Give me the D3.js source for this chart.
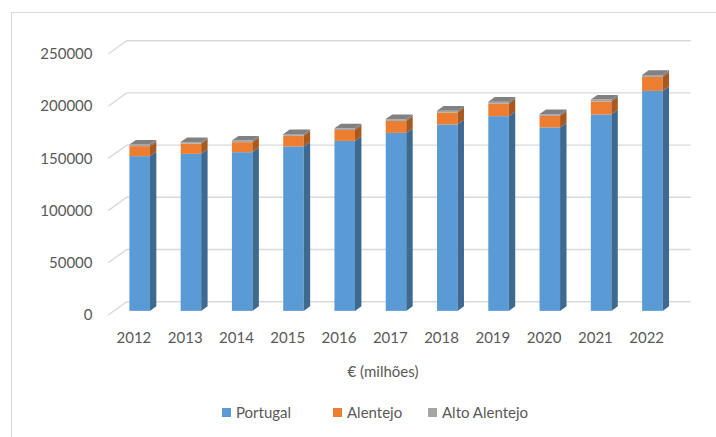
<!DOCTYPE html>
<html>
<head>
<meta charset="utf-8">
<script src="https://cdn.jsdelivr.net/npm/d3@7"></script>
<style>
  body { margin: 0; background: #fff; }
  svg text { font-family: Lato, "Open Sans", sans-serif; fill: #595959; }
</style>
</head>
<body>
<div id="chart-area"></div>
<script>
// Chart data (€ milhões)
const years = ["2012", "2013", "2014", "2015", "2016", "2017", "2018", "2019", "2020", "2021", "2022"];
const portugal = [148200, 150400, 152000, 157500, 162800, 170500, 178500, 186500, 175700, 188100, 210700];
const alentejo = [9600, 9800, 9600, 10200, 10500, 11500, 11500, 12100, 11100, 12500, 13400];
const altoAlentejo = [1500, 1500, 1500, 1600, 1600, 1700, 1700, 1800, 1700, 1800, 1900];
const seriesNames = ["Portugal", "Alentejo", "Alto Alentejo"];
const yTicks = [0, 50000, 100000, 150000, 200000, 250000];

const width = 716, height = 437;
const colors = {
    front: ["#5b9bd5", "#ed7d31", "#a5a5a5"],
    side: ["#3e6a92", "#a9581f", "#767676"],
    top: "#818181"
};

// 3D depth of the floor / wall and of the bars
const depth = { dx: 18.4, dy: -13.3 };
const barFront = 0.31, barBack = 0.66;

const svg = d3.select("#chart-area").append("svg")
    .attr("width", width)
    .attr("height", height);

// chart frame
svg.append("path")
    .attr("d", "M11.5," + height + "V12.5H" + width)
    .attr("fill", "none")
    .attr("stroke", "#d9d9d9");

// scales on the front plane
const x = d3.scaleBand().domain(years).range([108.3, 672.3])
    .paddingInner(0.6).paddingOuter(0.3);
const y = d3.scaleLinear().domain([0, 250000]).range([315, 54]);

// gridlines: slant on the side wall, then along the back wall
const grid = svg.append("g");
yTicks.forEach((v) => {
    const y0 = y(v);
    grid.append("path")
        .attr("d", "M108.3," + y0 + "L" + (108.3 + depth.dx) + "," + (y0 + depth.dy) +
            "H" + (672.3 + depth.dx))
        .attr("fill", "none")
        .attr("stroke", "#d9d9d9")
        .attr("stroke-width", 1.4);
    grid.append("text")
        .attr("x", 92.5)
        .attr("y", y0)
        .attr("dy", "0.35em")
        .attr("text-anchor", "end")
        .style("font-size", "15px")
        .text(v);
});

// stacked data
const stackData = years.map((yr, i) => ({ year: yr, values: [portugal[i], alentejo[i], altoAlentejo[i]] }));

const sx = (barBack - barFront) * depth.dx, sy = (barBack - barFront) * depth.dy;
const bars = svg.append("g");
stackData.forEach((d) => {
    const bw = x.bandwidth();
    const x0 = x(d.year) + barFront * depth.dx;
    const x1 = x0 + bw;
    const off = barFront * depth.dy;
    let base = 0;
    d.values.forEach((v, s) => {
        const yb = y(base) + off, yt = y(base + v) + off;
        bars.append("rect")
            .attr("x", x0).attr("y", yt)
            .attr("width", bw).attr("height", yb - yt)
            .attr("fill", colors.front[s]);
        bars.append("polygon")
            .attr("points", [[x1, yb], [x1 + sx, yb + sy], [x1 + sx, yt + sy], [x1, yt]].join(" "))
            .attr("fill", colors.side[s]);
        base += v;
        if (s === d.values.length - 1) {
            bars.append("polygon")
                .attr("points", [[x0, yt], [x0 + sx, yt + sy], [x1 + sx, yt + sy], [x1, yt]].join(" "))
                .attr("fill", colors.top);
        }
    });
});

// category labels
svg.append("g").selectAll("text")
    .data(years)
    .join("text")
    .attr("x", (d) => x(d) + x.bandwidth() / 2)
    .attr("y", 338)
    .attr("dy", "0.35em")
    .attr("text-anchor", "middle")
    .style("font-size", "15px")
    .text((d) => d);

// axis title
svg.append("text")
    .attr("x", 383)
    .attr("y", 372)
    .attr("dy", "0.35em")
    .attr("text-anchor", "middle")
    .style("font-size", "15px")
    .text("€ (milhões)");

// legend
const legendX = [222, 333, 428];
const legend = svg.append("g");
seriesNames.forEach((name, i) => {
    legend.append("rect")
        .attr("x", legendX[i]).attr("y", 408)
        .attr("width", 9).attr("height", 9)
        .attr("fill", colors.front[i]);
    legend.append("text")
        .attr("x", legendX[i] + 14)
        .attr("y", 413)
        .attr("dy", "0.35em")
        .style("font-size", "15px")
        .text(name);
});
</script>
</body>
</html>
